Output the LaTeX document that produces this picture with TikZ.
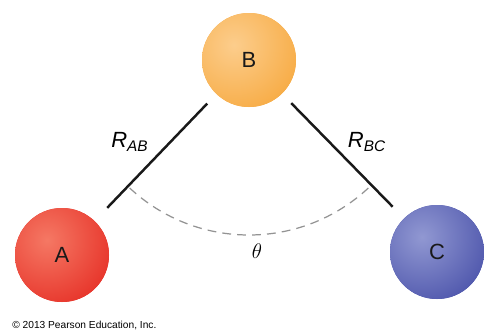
\documentclass[tikz,border=0pt]{standalone}
\usepackage{fontspec}
\setmainfont{Liberation Sans}
\usetikzlibrary{positioning}

\definecolor{redbase}{RGB}{228,38,30}
\definecolor{redlight}{RGB}{245,120,100}
\definecolor{orangebase}{RGB}{246,165,55}
\definecolor{orangelight}{RGB}{252,205,140}
\definecolor{bluebase}{RGB}{66,74,165}
\definecolor{bluelight}{RGB}{145,152,210}

\begin{document}
\begin{tikzpicture}[
    atom/.style n args={2}{circle, minimum size=1.88cm, inner sep=0pt, fill=#1,
        font=\fontsize{12.5}{14}\selectfont, text=black!90,
        path picture={\shade[inner color=#2, outer color=#1]
            ([shift={(-0.3,0.3)}]path picture bounding box.center) circle (1.7cm);}},
    bond/.style={line width=1.4pt, black!90},
    anglearc/.style={gray!85, line width=0.7pt, dash pattern=on 5pt off 3.5pt},
    label/.style={font=\fontsize{12.5}{14}\selectfont}
]
\useasboundingbox (0,0) rectangle (9.68,6.66);

% ============= ATOMS =============
\node[atom={orangebase}{orangelight}] (B) at (4.98,5.46) {B};
\node[atom={redbase}{redlight}] (A) at (1.24,1.56) {A};
\node[atom={bluebase}{bluelight}] (C) at (8.74,1.62) {C};

% Bonds
\draw[bond, shorten <=0.26cm, shorten >=0.36cm] (B) -- (A);
\draw[bond, shorten <=0.26cm, shorten >=0.32cm] (B) -- (C);
\node[label] (rab) at (2.6,3.82) {\textit{R}\textsubscript{\textit{AB}}};
\node[label] (rbc) at (7.34,3.82) {\textit{R}\textsubscript{\textit{BC}}};

% Bond angle
\draw[anglearc] ([shift={(227:3.5)}]B.center) arc[start angle=227, end angle=313, radius=3.5];
\node[label] (theta) at (5.14,1.64) {$\theta$};

% Credit line
\node[font=\fontsize{5.8}{7}\selectfont, anchor=west, inner sep=0pt] (credit) at (0.24,0.16) {\textcopyright\ 2013 Pearson Education, Inc.};

\end{tikzpicture}
\end{document}
